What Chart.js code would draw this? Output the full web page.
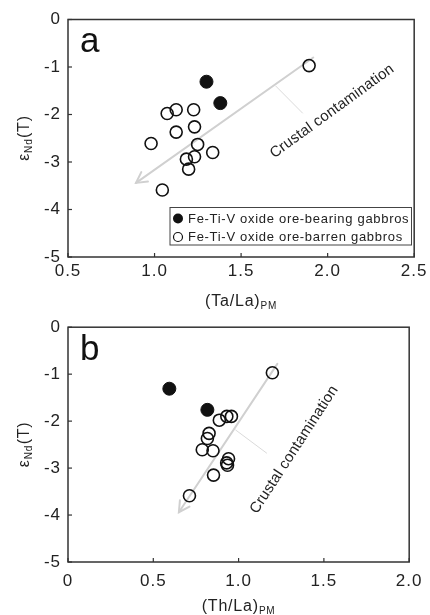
<!DOCTYPE html>
<html><head><meta charset="utf-8">
<script src="https://cdn.jsdelivr.net/npm/chart.js@4.4.1/dist/chart.umd.min.js"></script>
<style>
html,body{margin:0;padding:0;background:#fff;width:430px;height:615px;overflow:hidden}
#wa{position:absolute;left:0;top:0;width:430px;height:310px}
#wb{position:absolute;left:0;top:310px;width:430px;height:305px}
</style></head><body>
<div id="wa"><canvas id="ca"></canvas></div>
<div id="wb"><canvas id="cb"></canvas></div>
<script>
// ---- data ----
const seriesNames = ['Fe-Ti-V oxide ore-bearing gabbros', 'Fe-Ti-V oxide ore-barren gabbros'];
const eNdBearing = [-1.31, -1.76];
const eNdBarren  = [-0.97, -1.90, -1.90, -1.98, -2.26, -2.37, -2.61, -2.63, -2.80, -2.89, -2.94, -3.15, -3.59];
const taLaBearing = [1.30, 1.38];
const taLaBarren  = [1.893, 1.125, 1.226, 1.073, 1.231, 1.125, 0.980, 1.249, 1.336, 1.231, 1.184, 1.197, 1.045];
const thLaBearing = [0.594, 0.817];
const thLaBarren  = [1.198, 0.931, 0.958, 0.887, 0.827, 0.817, 0.787, 0.850, 0.941, 0.930, 0.935, 0.853, 0.712];
const yTickVals = [0, -1, -2, -3, -4, -5];
const yTickLabels = ['0', '-1', '-2', '-3', '-4', '-5'];
const xTickValsA = [0.5, 1.0, 1.5, 2.0, 2.5];
const xTickLabelsA = ['0.5', '1.0', '1.5', '2.0', '2.5'];
const xTickValsB = [0, 0.5, 1.0, 1.5, 2.0];
const xTickLabelsB = ['0', '0.5', '1.0', '1.5', '2.0'];
const trendA = [[1.917, -0.80], [0.893, -3.44]];
const leaderA = [[1.70, -1.40], [1.855, -1.97]];
const trendB = [[1.227, -0.78], [0.650, -3.94]];
const leaderB = [[0.983, -2.19], [1.164, -2.68]];
const trendLabel = 'Crustal contamination';

const FONT = "'Liberation Sans', Arial, Helvetica, sans-serif";
Chart.defaults.font.family = FONT;

function pts(xs, ys) { return xs.map((x, i) => ({x: x, y: ys[i]})); }

function drawArrow(ctx, x1, y1, x2, y2) {
  ctx.beginPath(); ctx.moveTo(x1, y1); ctx.lineTo(x2, y2); ctx.stroke();
  const a = Math.atan2(y2 - y1, x2 - x1), L = 12, s = 0.5;
  ctx.beginPath();
  ctx.moveTo(x2 - L * Math.cos(a - s), y2 - L * Math.sin(a - s));
  ctx.lineTo(x2, y2);
  ctx.lineTo(x2 - L * Math.cos(a + s), y2 - L * Math.sin(a + s));
  ctx.stroke();
}

function makeDeco(o) {
  return {
    id: 'deco' + o.letter,
    beforeDraw(chart) { chart.ctx.letterSpacing = '1px'; },
    beforeDatasetsDraw(chart) {
      const ctx = chart.ctx, sx = chart.scales.x, sy = chart.scales.y;
      const P = p => [sx.getPixelForValue(p[0]), sy.getPixelForValue(p[1])];
      ctx.save();
      ctx.lineCap = 'round';
      ctx.strokeStyle = '#d0d0d0'; ctx.lineWidth = 2;
      const a = P(o.trend[0]), b = P(o.trend[1]);
      drawArrow(ctx, a[0], a[1], b[0], b[1]);
      ctx.strokeStyle = '#dadada'; ctx.lineWidth = 1;
      const c = P(o.leader[0]), d = P(o.leader[1]);
      ctx.beginPath(); ctx.moveTo(c[0], c[1]); ctx.lineTo(d[0], d[1]); ctx.stroke();
      ctx.restore();
    },
    afterDraw(chart) {
      const ctx = chart.ctx, ca = chart.chartArea, sx = chart.scales.x, sy = chart.scales.y;
      ctx.save();
      // frame
      ctx.strokeStyle = '#333'; ctx.lineWidth = 1.5;
      ctx.strokeRect(ca.left, ca.top, ca.right - ca.left, ca.bottom - ca.top);
      // inward ticks
      ctx.lineWidth = 1.2;
      o.xVals.forEach(v => { const x = sx.getPixelForValue(v); ctx.beginPath(); ctx.moveTo(x, ca.bottom); ctx.lineTo(x, ca.bottom - 4); ctx.stroke(); });
      yTickVals.forEach(v => { const y = sy.getPixelForValue(v); ctx.beginPath(); ctx.moveTo(ca.left, y); ctx.lineTo(ca.left + 4, y); ctx.stroke(); });
      // panel letter
      ctx.letterSpacing = '0px';
      ctx.fillStyle = '#111'; ctx.font = '35px ' + FONT; ctx.textBaseline = 'alphabetic'; ctx.textAlign = 'left';
      ctx.fillText(o.letter, 80, o.letterBase);
      // trend label
      ctx.save();
      ctx.letterSpacing = '0.2px';
      ctx.translate(sx.getPixelForValue(o.labelAt[0]), sy.getPixelForValue(o.labelAt[1]));
      ctx.rotate(o.labelAngle * Math.PI / 180);
      ctx.font = '15px ' + FONT; ctx.textAlign = 'center'; ctx.textBaseline = 'middle'; ctx.fillStyle = '#222';
      ctx.fillText(trendLabel, 0, 0);
      ctx.restore();
      // y title
      ctx.letterSpacing = '0.8px';
      const yc = (ca.top + ca.bottom) / 2;
      ctx.save(); ctx.translate(23, yc); ctx.rotate(-Math.PI / 2);
      ctx.fillStyle = '#222'; ctx.textAlign = 'left'; ctx.textBaseline = 'alphabetic';
      const f1 = '16px ' + FONT, f2 = '10px ' + FONT;
      ctx.font = f1; const w1 = ctx.measureText('ε').width, w3 = ctx.measureText('(T)').width;
      ctx.font = f2; const w2 = ctx.measureText('Nd').width;
      let cx = -(w1 + w2 + w3) / 2;
      ctx.font = f1; ctx.fillText('ε', cx, 6); cx += w1;
      ctx.font = f2; ctx.fillText('Nd', cx, 9); cx += w2 + 0.5;
      ctx.font = f1; ctx.fillText('(T)', cx, 6);
      ctx.restore();
      // x title
      ctx.font = f1; const m1 = ctx.measureText(o.xTitle).width;
      ctx.font = f2; const m2 = ctx.measureText('PM').width;
      let xx = (ca.left + ca.right) / 2 - (m1 + m2) / 2;
      ctx.textBaseline = 'alphabetic'; ctx.fillStyle = '#222';
      ctx.font = f1; ctx.fillText(o.xTitle, xx, o.xTitleBase);
      ctx.font = f2; ctx.fillText('PM', xx + m1, o.xTitleBase + 3);
      // legend
      if (o.legend) {
        const L = o.legend;
        ctx.letterSpacing = '0.7px';
        ctx.strokeStyle = '#444'; ctx.lineWidth = 1;
        ctx.strokeRect(L.x, L.y, L.w, L.h);
        ctx.font = '13px ' + FONT; ctx.textBaseline = 'middle';
        ctx.beginPath(); ctx.arc(L.x + 8, L.y + 11, 5, 0, 2 * Math.PI); ctx.fillStyle = '#111'; ctx.fill();
        ctx.fillStyle = '#222'; ctx.fillText(seriesNames[0], L.x + 18, L.y + 11.5);
        ctx.beginPath(); ctx.arc(L.x + 8, L.y + 29.5, 4.5, 0, 2 * Math.PI); ctx.strokeStyle = '#111'; ctx.lineWidth = 1.2; ctx.stroke();
        ctx.fillText(seriesNames[1], L.x + 18, L.y + 30);
      }
      ctx.restore();
    }
  };
}

function makeChart(id, xb, xo, o) {
  return new Chart(document.getElementById(id), {
    type: 'scatter',
    data: {datasets: [
      {label: seriesNames[0], data: pts(xb, eNdBearing), pointRadius: 6.5, pointHoverRadius: 6.5,
       pointBackgroundColor: '#111', pointBorderColor: '#111', pointBorderWidth: 1},
      {label: seriesNames[1], data: pts(xo, eNdBarren), pointRadius: 6, pointHoverRadius: 6,
       pointBackgroundColor: 'rgba(0,0,0,0)', pointBorderColor: '#111', pointBorderWidth: 1.6}
    ]},
    options: {
      responsive: true, maintainAspectRatio: false, animation: false, events: [],
      layout: {padding: {top: o.padTop, right: 12, left: 0, bottom: 0}},
      plugins: {legend: {display: false}, tooltip: {enabled: false}},
      scales: {
        x: {type: 'linear', min: o.xmin, max: o.xmax,
            grid: {display: false, drawTicks: false}, border: {display: false},
            afterBuildTicks: s => { s.ticks = o.xVals.map(v => ({value: v})); },
            afterFit: s => { s.height = 53; },
            ticks: {autoSkip: false, maxRotation: 0, padding: o.xPad, color: '#222', font: {size: 17},
                    callback: (v, i) => o.xLabels[i]}},
        y: {type: 'linear', min: -5, max: 0,
            grid: {display: false, drawTicks: false}, border: {display: false},
            afterBuildTicks: s => { s.ticks = yTickVals.map(v => ({value: v})); },
            afterFit: s => { s.width = 68; },
            ticks: {autoSkip: false, padding: 7, color: '#222', font: {size: 17},
                    callback: (v, i) => yTickLabels[i]}}
      }
    },
    plugins: [makeDeco(o)]
  });
}

makeChart('ca', taLaBearing, taLaBarren, {
  letter: 'a', letterBase: 52, padTop: 19.5, xmin: 0.5, xmax: 2.5, xVals: xTickValsA, xLabels: xTickLabelsA,
  xPad: 4, xTitle: '(Ta/La)', xTitleBase: 306, trend: trendA, leader: leaderA,
  labelAt: [2.026, -1.93], labelAngle: -36,
  legend: {x: 170, y: 207.5, w: 241.5, h: 37.5}
});
makeChart('cb', thLaBearing, thLaBarren, {
  letter: 'b', letterBase: 50, padTop: 14, xmin: 0, xmax: 2, xVals: xTickValsB, xLabels: xTickLabelsB,
  xPad: 9, xTitle: '(Th/La)', xTitleBase: 301, trend: trendB, leader: leaderB,
  labelAt: [1.326, -2.61], labelAngle: -57
});
</script>
</body></html>
